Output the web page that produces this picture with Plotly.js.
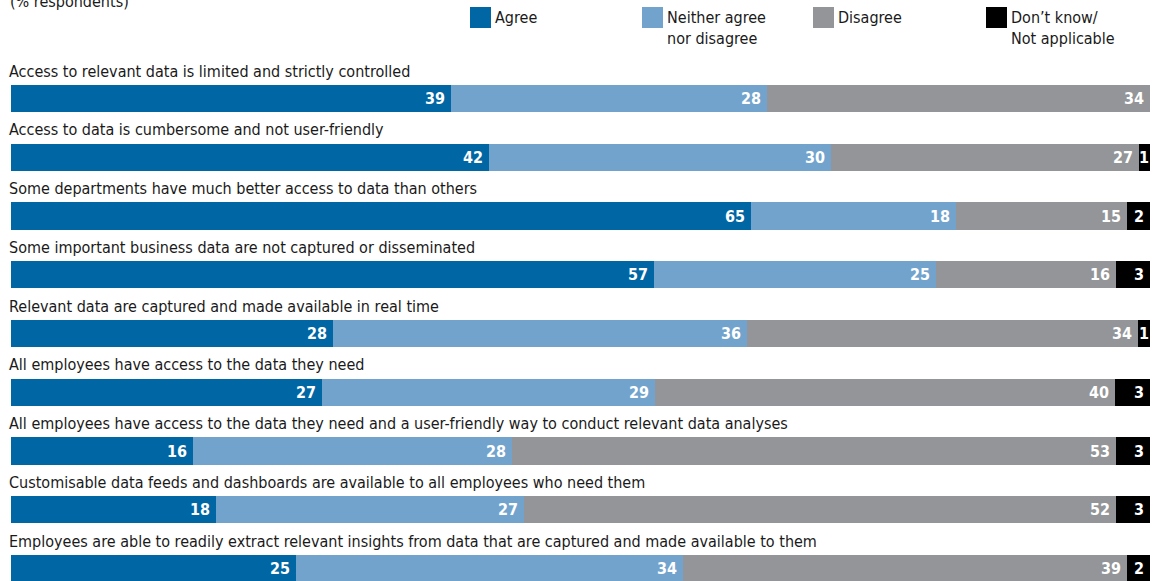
<!DOCTYPE html>
<html>
<head>
<meta charset="utf-8">
<script src="https://cdn.plot.ly/plotly-3.0.1.min.js"></script>
<style>
  html, body { margin: 0; padding: 0; background: #ffffff; }
  #chart { width: 1162px; height: 581px; }
</style>
</head>
<body>
<div id="chart"></div>
<script>
// ---- data ----
const categories = [
  "Access to relevant data is limited and strictly controlled",
  "Access to data is cumbersome and not user-friendly",
  "Some departments have much better access to data than others",
  "Some important business data are not captured or disseminated",
  "Relevant data are captured and made available in real time",
  "All employees have access to the data they need",
  "All employees have access to the data they need and a user-friendly way to conduct relevant data analyses",
  "Customisable data feeds and dashboards are available to all employees who need them",
  "Employees are able to readily extract relevant insights from data that are captured and made available to them"
];
const agree     = [39, 42, 65, 57, 28, 27, 16, 18, 25];
const neither   = [28, 30, 18, 25, 36, 29, 28, 27, 34];
const disagree  = [34, 27, 15, 16, 34, 40, 53, 52, 39];
const dontKnow  = [0, 1, 2, 3, 1, 3, 3, 3, 2];
const seriesNames = ["Agree", "Neither agree<br>nor disagree", "Disagree", "Don\u2019t know/<br>Not applicable"];
const seriesColors = ["#0066a4", "#72a3cd", "#939598", "#000000"];
const subtitle = "(% respondents)";

// ---- layout geometry ----
const W = 1162, H = 581;
const M = {l: 11, r: 12, t: 60, b: 0};
const PW = W - M.l - M.r, PH = H - M.t - M.b;
const rowStep = 58.75;
const firstRowCenter = 98.5;
const yTop = -(firstRowCenter - M.t) / rowStep;
const yBottom = yTop + PH / rowStep;
const px2x = px => (px - M.l) / PW;
const px2y = py => 1 + (M.t - py) / PH;

const FONT = '"Liberation Sans Narrow", "Arial Narrow", "DejaVu Sans Condensed", sans-serif';
const rowIdx = categories.map((_, i) => i);
const allSeries = [agree, neither, disagree, dontKnow];

const traces = allSeries.map((vals, s) => ({
  type: 'bar',
  orientation: 'h',
  y: rowIdx,
  x: vals,
  name: seriesNames[s],
  marker: {color: seriesColors[s], line: {width: 0}},
  hoverinfo: 'skip',
  showlegend: false
}));

const annotations = [];
// category labels
categories.forEach((c, i) => {
  annotations.push({
    xref: 'paper', yref: 'y', x: 0, y: i, yshift: 27.5,
    xanchor: 'left', yanchor: 'middle', xshift: -4,
    text: c, showarrow: false,
    font: {family: FONT, size: 16, color: '#1a1a1a'}
  });
});
// value labels
rowIdx.forEach(i => {
  const vals = allSeries.map(a => a[i]);
  const total = vals.reduce((a, b) => a + b, 0);
  let cum = 0;
  vals.forEach((v, s) => {
    if (v <= 0) return;
    const start = cum / total * 100;
    cum += v;
    const end = cum / total * 100;
    const segPx = (end - start) / 100 * PW;
    const narrow = segPx < 16;
    annotations.push({
      xref: 'x', yref: 'y',
      x: narrow ? (start + end) / 2 : end, y: i,
      xanchor: narrow ? 'center' : 'right', yanchor: 'middle',
      xshift: narrow ? 0 : -4,
      text: String(v), showarrow: false,
      font: {family: FONT, size: 16, color: '#ffffff', weight: 'bold'}
    });
  });
});
// subtitle (partly above the top edge, as in the source)
annotations.push({
  xref: 'paper', yref: 'paper', x: px2x(8), y: px2y(13),
  xanchor: 'left', yanchor: 'bottom', text: subtitle, showarrow: false,
  font: {family: FONT, size: 16, color: '#1a1a1a'}
});
// legend
const legendSq = [470, 642, 813, 986];
const shapes = [];
seriesNames.forEach((n, s) => {
  shapes.push({
    type: 'rect', xref: 'paper', yref: 'paper',
    x0: px2x(legendSq[s]), x1: px2x(legendSq[s] + 21),
    y0: px2y(28), y1: px2y(7),
    fillcolor: seriesColors[s], line: {width: 0}
  });
  annotations.push({
    xref: 'paper', yref: 'paper', x: px2x(legendSq[s] + 23), y: px2y(6),
    xanchor: 'left', yanchor: 'top', align: 'left',
    text: n, showarrow: false,
    font: {family: FONT, size: 16, color: '#1a1a1a'}
  });
});

const layout = {
  width: W, height: H,
  margin: M,
  paper_bgcolor: '#ffffff', plot_bgcolor: '#ffffff',
  barmode: 'stack', barnorm: 'percent', bargap: 0.54,
  xaxis: {range: [0, 100], visible: false, fixedrange: true},
  yaxis: {range: [yBottom, yTop], visible: false, fixedrange: true},
  showlegend: false,
  annotations: annotations,
  shapes: shapes
};

Plotly.newPlot('chart', traces, layout, {displayModeBar: false, staticPlot: true});
</script>
</body>
</html>
